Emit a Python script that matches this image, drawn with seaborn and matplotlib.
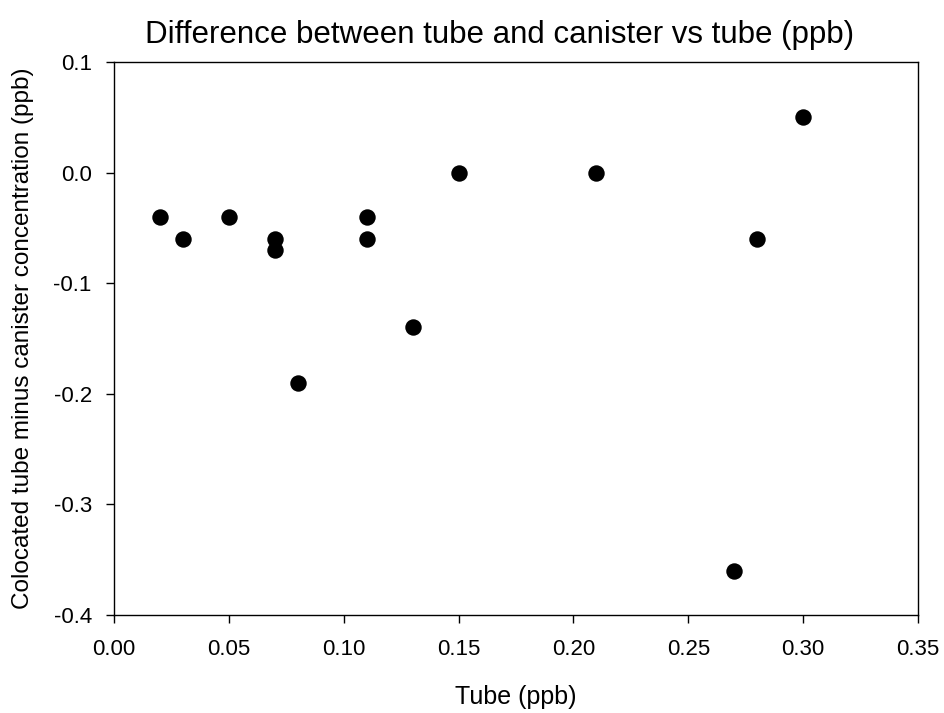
import matplotlib
matplotlib.use("Agg")
import matplotlib.pyplot as plt
import seaborn as sns
import pandas as pd

tube = [0.02, 0.03, 0.05, 0.07, 0.07, 0.08, 0.11, 0.11, 0.13, 0.15, 0.21, 0.27, 0.28, 0.30]
diff = [-0.04, -0.06, -0.04, -0.06, -0.07, -0.19, -0.04, -0.06, -0.14, 0.0, 0.0, -0.36, -0.06, 0.05]
xticks = [0.00, 0.05, 0.10, 0.15, 0.20, 0.25, 0.30, 0.35]
yticks = [-0.4, -0.3, -0.2, -0.1, 0.0, 0.1]

sns.set_style("ticks")
plt.rcParams['font.family'] = ['Liberation Sans', 'DejaVu Sans']
plt.rcParams['text.color'] = 'black'
plt.rcParams['axes.labelcolor'] = 'black'
plt.rcParams['xtick.color'] = 'black'
plt.rcParams['ytick.color'] = 'black'

df = pd.DataFrame({"tube": tube, "diff": diff})
fig = plt.figure(figsize=(9.44, 7.13), dpi=100)
ax = fig.add_axes([0.1208, 0.1374, 0.8517, 0.7756])
sns.scatterplot(data=df, x="tube", y="diff", ax=ax, color="black", s=140, edgecolor="black", linewidth=0, zorder=3)
ax.set_xlim(0, 0.35)
ax.set_ylim(-0.4, 0.1)
ax.set_xticks(xticks)
ax.set_xticklabels([f"{v:.2f}" for v in xticks])
ax.set_yticks(yticks)
ax.set_yticklabels([f"{v:.1f}" for v in yticks])
ax.tick_params(direction="out", length=6, width=1, labelsize=16)
ax.tick_params(axis="x", pad=11)
ax.tick_params(axis="y", pad=10)
for s in ax.spines.values():
    s.set_visible(True)
    s.set_linewidth(1)
    s.set_color("black")
ax.set_xlabel("Tube (ppb)", fontsize=18, labelpad=18)
ax.set_ylabel("Colocated tube minus canister concentration (ppb)", fontsize=17.5, labelpad=14)
ax.set_title("Difference between tube and canister vs tube (ppb)", fontsize=22.5, pad=14, x=0.48)
fig.savefig("out.png", dpi=100)
